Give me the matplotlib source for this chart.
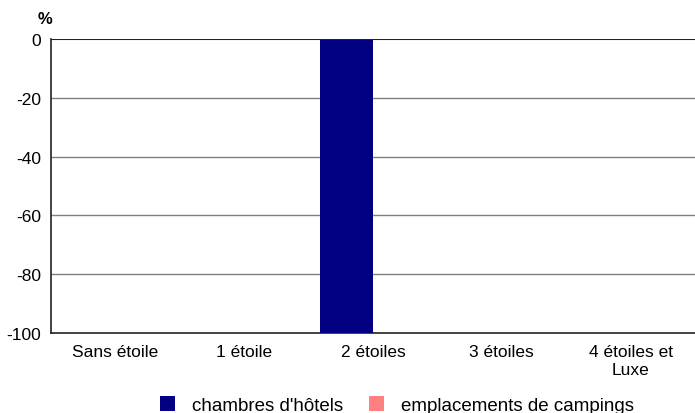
import numpy as np
import matplotlib.pyplot as plt

plt.rcParams['font.family'] = ['Liberation Sans', 'DejaVu Sans']

categories = ['Sans étoile', '1 étoile', '2 étoiles', '3 étoiles', '4 étoiles et\nLuxe']
hotels = [0, 0, -100, 0, 0]
campings = [0, 0, 0, 0, 0]
series_names = ["chambres d'hôtels", 'emplacements de campings']
yticks = [0, -20, -40, -60, -80, -100]

fig = plt.figure(figsize=(6.95, 4.14), dpi=100)
ax = fig.add_axes([51 / 695, 1 - 334 / 414, 644 / 695, 294 / 414])

x = np.arange(len(categories))
w = 0.41
ax.bar(x - w / 2, hotels, w, color='#000080', label=series_names[0], zorder=3)
ax.bar(x + w / 2, campings, w, color='#FF8080', label=series_names[1], zorder=3)

ax.set_xlim(-0.5, len(categories) - 0.5)
ax.set_ylim(-100, 0)
ax.set_yticks(yticks)
ax.set_yticklabels([str(v) for v in yticks])
ax.set_xticks(x)
ax.set_xticklabels(categories, fontsize=12.5, linespacing=1.25)
ax.tick_params(axis='both', length=0, labelsize=12.5, colors='black')
ax.tick_params(axis='x', pad=8)
ax.tick_params(axis='y', pad=7)

# gridlines grey, zero line dark
for v in yticks[1:-1]:
    ax.axhline(v, color='#808080', lw=1, zorder=1)
ax.axhline(0, color='#222222', lw=1.5, zorder=4)

for s in ['top', 'right']:
    ax.spines[s].set_visible(False)
ax.spines['left'].set_color('#222222')
ax.spines['bottom'].set_color('#222222')
ax.spines['left'].set_linewidth(1.2)
ax.spines['bottom'].set_linewidth(1.2)

fig.text(45 / 695, 1 - 20 / 414, '%', fontsize=12, fontweight='bold', ha='center', va='center')

leg = fig.legend(loc='center', bbox_to_anchor=(397 / 695, 1 - 406 / 414), ncol=2, frameon=False,
                 fontsize=13.5, handlelength=0.8, handleheight=0.8, columnspacing=1.4, handletextpad=0.9)

fig.savefig('out.png', dpi=100)
